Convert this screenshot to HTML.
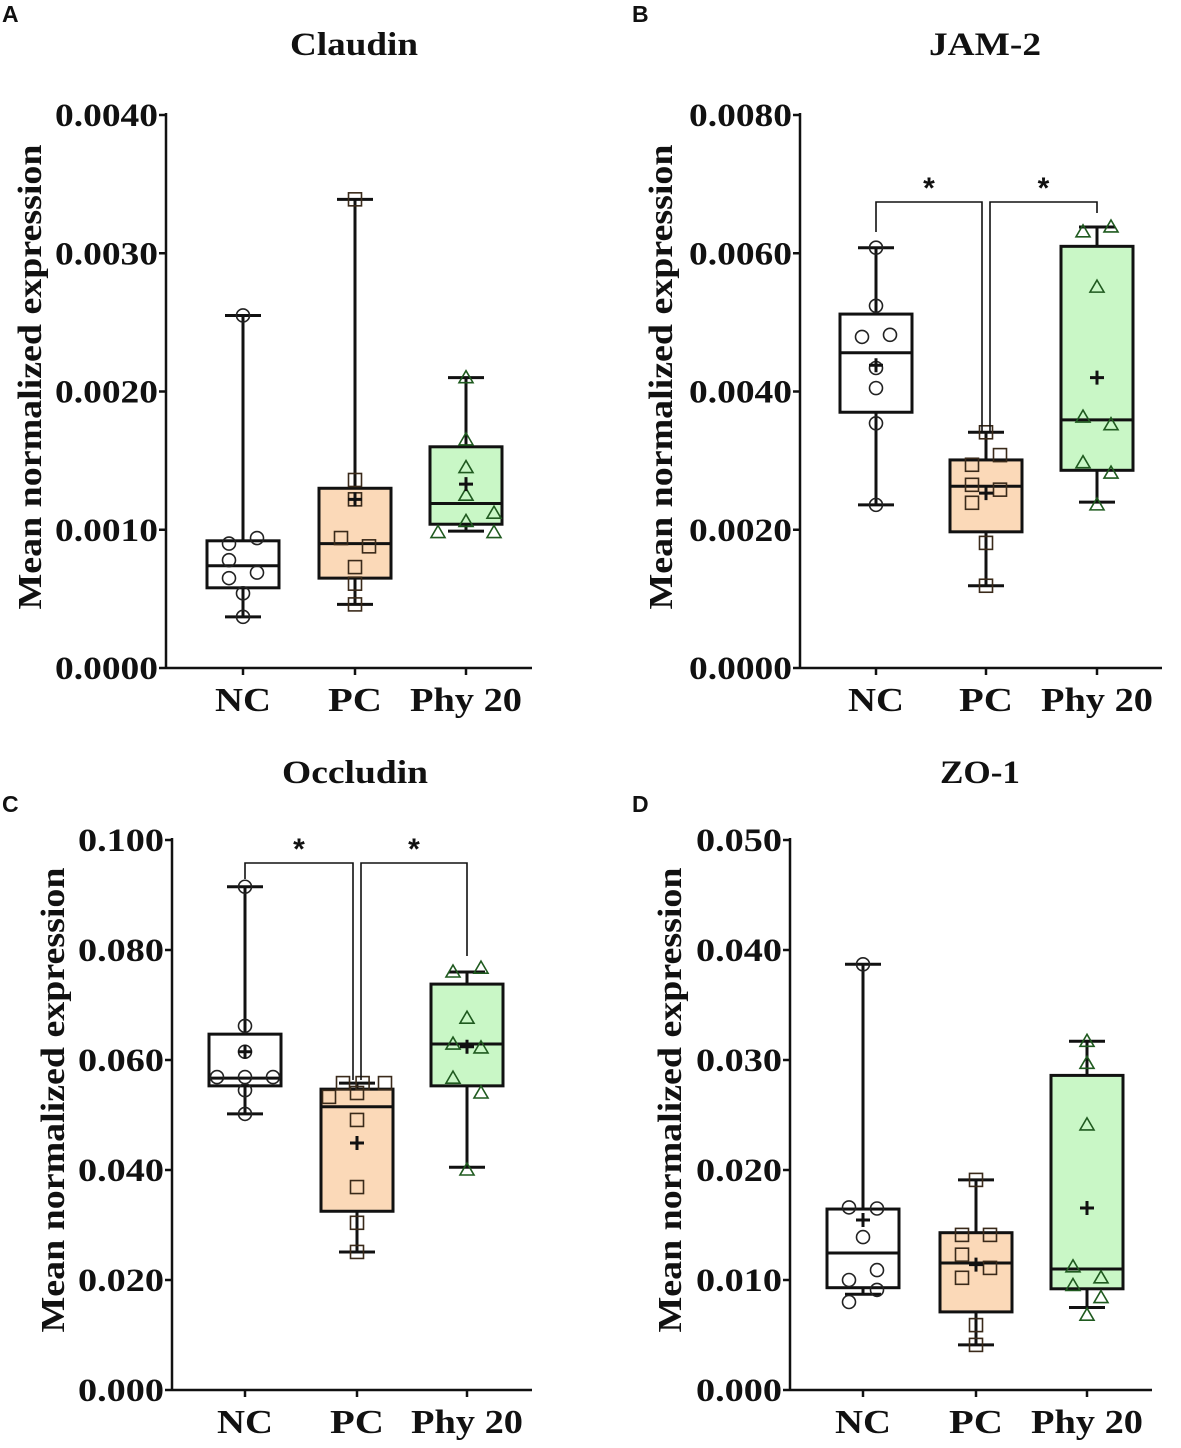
<!DOCTYPE html>
<html><head><meta charset="utf-8">
<style>
body{margin:0;background:#fff;}
svg{display:block;}
text{font-family:"Liberation Serif",serif;font-weight:bold;fill:#111;}
.lt{font-family:"Liberation Sans",sans-serif;}
</style></head>
<body>
<svg id="chart" width="1181" height="1448" viewBox="0 0 1181 1448" xmlns="http://www.w3.org/2000/svg"></svg>
<script>
const categories = ["NC","PC","Phy 20"];
// Panel A - Claudin
const aTicks = ["0.0000","0.0010","0.0020","0.0030","0.0040"];
const aMin = [0.00037,0.00046,0.00099];
const aQ1 = [0.00058,0.00065,0.00104];
const aMed = [0.00074,0.00090,0.00119];
const aQ3 = [0.00092,0.00130,0.00160];
const aMax = [0.00255,0.00339,0.00210];
const aMean = [null,0.00122,0.00133];
const aPts = [[0.00255,0.00090,0.00094,0.00078,0.00069,0.00065,0.00054,0.00037],
              [0.00339,0.00136,0.00122,0.00094,0.00088,0.00073,0.00061,0.00046],
              [0.00210,0.00165,0.00145,0.00125,0.00112,0.00106,0.00098,0.00098]];
const aJit = [[0,-1,1,-1,1,-1,0,0],[0,0,0,-1,1,0,0,0],[0,0,0,0,2,0,-2,2]];
// Panel B - JAM-2
const bTicks = ["0.0000","0.0020","0.0040","0.0060","0.0080"];
const bMin = [0.00236,0.00119,0.00240];
const bQ1 = [0.00370,0.00197,0.00286];
const bMed = [0.00456,0.00263,0.00359];
const bQ3 = [0.00512,0.00301,0.00610];
const bMax = [0.00608,0.00341,0.00638];
const bMean = [0.00438,0.00253,0.00420];
const bPts = [[0.00608,0.00524,0.00479,0.00482,0.00434,0.00405,0.00354,0.00236],
              [0.00341,0.00308,0.00294,0.00265,0.00258,0.00239,0.00181,0.00119],
              [0.00631,0.00638,0.00551,0.00363,0.00352,0.00297,0.00282,0.00236]];
const bJit = [[0,0,-1,1,0,0,0,0],[0,1,-1,-1,1,-1,0,0],[-1,1,0,-1,1,-1,1,0]];
// Panel C - Occludin
const cTicks = ["0.000","0.020","0.040","0.060","0.080","0.100"];
const cMin = [0.0502,0.0251,0.0405];
const cQ1 = [0.0553,0.0325,0.0553];
const cMed = [0.0567,0.0515,0.0629];
const cQ3 = [0.0647,0.0547,0.0738];
const cMax = [0.0915,0.0558,0.0760];
const cMean = [0.0615,0.0449,0.0624];
const cPts = [[0.0915,0.0662,0.0615,0.0569,0.0569,0.0569,0.0545,0.0502],
              [0.0558,0.0558,0.0558,0.0533,0.0540,0.0491,0.0369,0.0304,0.0251],
              [0.0760,0.0767,0.0676,0.0629,0.0622,0.0567,0.0540,0.0400]];
const cJit = [[0,0,0,-2,0,2,0,0],[-1,0.4,2,-2,0,0,0,0,0],[-1,1,0,-1,1,-1,1,0]];
// Panel D - ZO-1
const dTicks = ["0.000","0.010","0.020","0.030","0.040","0.050"];
const dMin = [0.0087,0.0041,0.0075];
const dQ1 = [0.0093,0.0071,0.0092];
const dMed = [0.01245,0.01155,0.0110];
const dQ3 = [0.01645,0.0143,0.0286];
const dMax = [0.0387,0.0191,0.0317];
const dMean = [0.01545,0.0114,0.01655];
const dPts = [[0.0387,0.0166,0.0165,0.0139,0.0109,0.0100,0.0091,0.0080],
              [0.0191,0.0141,0.0141,0.0123,0.0111,0.0102,0.0059,0.0041],
              [0.0317,0.0297,0.0241,0.0112,0.0102,0.0095,0.0084,0.0068]];
const dJit = [[0,-1,1,0,1,-1,1,-1],[0,-1,1,-1,1,-1,0,0],[0,0,0,-1,1,-1,1,0]];

const NS="http://www.w3.org/2000/svg";
const svg=document.getElementById('chart');
function mk(tag,attrs,parent,txt){const e=document.createElementNS(NS,tag);for(const k in attrs)e.setAttribute(k,attrs[k]);if(txt!==undefined)e.textContent=txt;(parent||svg).appendChild(e);return e;}

const fills=["#ffffff","#fbd9b8","#c9f7c6"];
const strokes=["#222","#3a2a1a","#1f5a1f"];
const xlw=[56,54,112];

function panel(cfg){
  const g=mk('g',{});
  
  
  const ymax=cfg.top;
  const y=v=>cfg.y0-(v/ymax)*(cfg.y0-cfg.yTop);
  const x=i=>cfg.cx[i];
  const L=mk('text',{x:cfg.lx,y:cfg.ly,'font-size':23,class:'lt'},g,cfg.letter);
  
  
  const t=mk('text',{x:cfg.tx,y:cfg.ty,'font-size':33,'text-anchor':'middle',textLength:cfg.tw,lengthAdjust:'spacingAndGlyphs'},g,cfg.title);
  
  
  const yt=mk('text',{x:0,y:0,'font-size':34,'text-anchor':'middle',textLength:465,lengthAdjust:'spacingAndGlyphs',transform:`translate(${cfg.ytx},${cfg.yty}) rotate(-90)`},g,'Mean normalized expression');
  
  
  const ya=mk('line',{x1:cfg.ax,y1:cfg.yTop-2,x2:cfg.ax,y2:cfg.y0,stroke:'#111','stroke-width':2.5},g);
  
  
  const xa=mk('line',{x1:cfg.ax,y1:cfg.y0,x2:cfg.xEnd,y2:cfg.y0,stroke:'#111','stroke-width':2.5},g);
  
  
  const n=cfg.ticks.length;
  cfg.ticks.forEach((lab,i)=>{
    const v=ymax*i/(n-1), yy=y(v);
    mk('line',{x1:cfg.ax-7,y1:yy,x2:cfg.ax,y2:yy,stroke:'#111','stroke-width':2.5},g);
    const tl=mk('text',{x:cfg.ax-8,y:yy+11,'font-size':33,'text-anchor':'end',textLength:cfg.tlw,lengthAdjust:'spacingAndGlyphs'},g,lab);
    
    
  });
  categories.forEach((c,i)=>{
    mk('line',{x1:x(i),y1:cfg.y0,x2:x(i),y2:cfg.y0+7,stroke:'#111','stroke-width':2.5},g);
    const xl=mk('text',{x:x(i),y:cfg.y0+43,'font-size':34,'text-anchor':'middle',textLength:xlw[i],lengthAdjust:'spacingAndGlyphs'},g,c);
    
    
  });
  for(let i=0;i<3;i++){
    const bx=mk('g',{},g);
    
    
    const hw=36,cw=18;
    mk('line',{x1:x(i),y1:y(cfg.max[i]),x2:x(i),y2:y(cfg.min[i]),stroke:'#111','stroke-width':3},bx);
    mk('rect',{x:x(i)-hw,y:y(cfg.q3[i]),width:2*hw,height:y(cfg.q1[i])-y(cfg.q3[i]),fill:fills[i],stroke:'#111','stroke-width':3},bx);
    mk('line',{x1:x(i)-hw,y1:y(cfg.med[i]),x2:x(i)+hw,y2:y(cfg.med[i]),stroke:'#111','stroke-width':3},bx);
    mk('line',{x1:x(i)-cw,y1:y(cfg.max[i]),x2:x(i)+cw,y2:y(cfg.max[i]),stroke:'#111','stroke-width':3},bx);
    mk('line',{x1:x(i)-cw,y1:y(cfg.min[i]),x2:x(i)+cw,y2:y(cfg.min[i]),stroke:'#111','stroke-width':3},bx);
    cfg.pts[i].forEach((v,j)=>{
      const px=x(i)+cfg.jit[i][j]*14, py=y(v);
      let p;
      if(i===0) p=mk('circle',{cx:px,cy:py,r:6.5,fill:'none',stroke:strokes[0],'stroke-width':1.6},bx);
      else if(i===1) p=mk('rect',{x:px-6.5,y:py-6.5,width:13,height:13,fill:'none',stroke:strokes[1],'stroke-width':1.6},bx);
      else p=mk('path',{d:`M${px},${py-7} L${px+7},${py+5} L${px-7},${py+5} Z`,fill:'none',stroke:strokes[2],'stroke-width':1.6},bx);
      
      
    });
    if(cfg.mean[i]!==null){
      const m=y(cfg.mean[i]);
      const mp=mk('path',{d:`M${x(i)-7},${m} H${x(i)+7} M${x(i)},${m-7} V${m+7}`,stroke:'#111','stroke-width':3},bx);
      
      
    }
  }
  if(cfg.sig){
    const s=cfg.sig, sg=mk('g',{},g);
    
    
    const a=s.pcx-4,b=s.pcx+4;
    mk('path',{d:`M${x(0)},${s.y0} V${s.top} H${a} V${s.yPC} M${b},${s.yPC} V${s.top} H${x(2)} V${s.y2}`,fill:'none',stroke:'#111','stroke-width':1.6},sg);
    mk('text',{x:(x(0)+a)/2,y:s.top-4,'font-size':30,'text-anchor':'middle',class:'lt'},sg,'*');
    mk('text',{x:(b+x(2))/2,y:s.top-4,'font-size':30,'text-anchor':'middle',class:'lt'},sg,'*');
  }
}

panel({name:'panel-a-claudin',letter:'A',lx:2,ly:22,title:'Claudin',tw:128,tx:354,ty:55,ytx:41,yty:377,ax:166,y0:668,yTop:115,top:0.004,xEnd:532,cx:[243,355,466],ticks:aTicks,tlw:103,
  min:aMin,q1:aQ1,med:aMed,q3:aQ3,max:aMax,mean:aMean,pts:aPts,jit:aJit});
panel({name:'panel-b-jam2',letter:'B',lx:632,ly:22,title:'JAM-2',tw:112,tx:985,ty:55,ytx:672,yty:377,ax:800,y0:668,yTop:115,top:0.008,xEnd:1162,cx:[876,986,1097],ticks:bTicks,tlw:103,
  min:bMin,q1:bQ1,med:bMed,q3:bQ3,max:bMax,mean:bMean,pts:bPts,jit:bJit,
  sig:{top:202,y0:232,pcx:986,yPC:432,y2:213}});
panel({name:'panel-c-occludin',letter:'C',lx:2,ly:812,title:'Occludin',tw:146,tx:355,ty:783,ytx:64,yty:1100,ax:172,y0:1390,yTop:840,top:0.1,xEnd:532,cx:[245,357,467],ticks:cTicks,tlw:86,
  min:cMin,q1:cQ1,med:cMed,q3:cQ3,max:cMax,mean:cMean,pts:cPts,jit:cJit,
  sig:{top:863,y0:879,pcx:357,yPC:1080,y2:956}});
panel({name:'panel-d-zo1',letter:'D',lx:632,ly:812,title:'ZO-1',tw:80,tx:980,ty:783,ytx:681,yty:1100,ax:790,y0:1390,yTop:840,top:0.05,xEnd:1152,cx:[863,976,1087],ticks:dTicks,tlw:86,
  min:dMin,q1:dQ1,med:dMed,q3:dQ3,max:dMax,mean:dMean,pts:dPts,jit:dJit});
</script>
</body></html>
